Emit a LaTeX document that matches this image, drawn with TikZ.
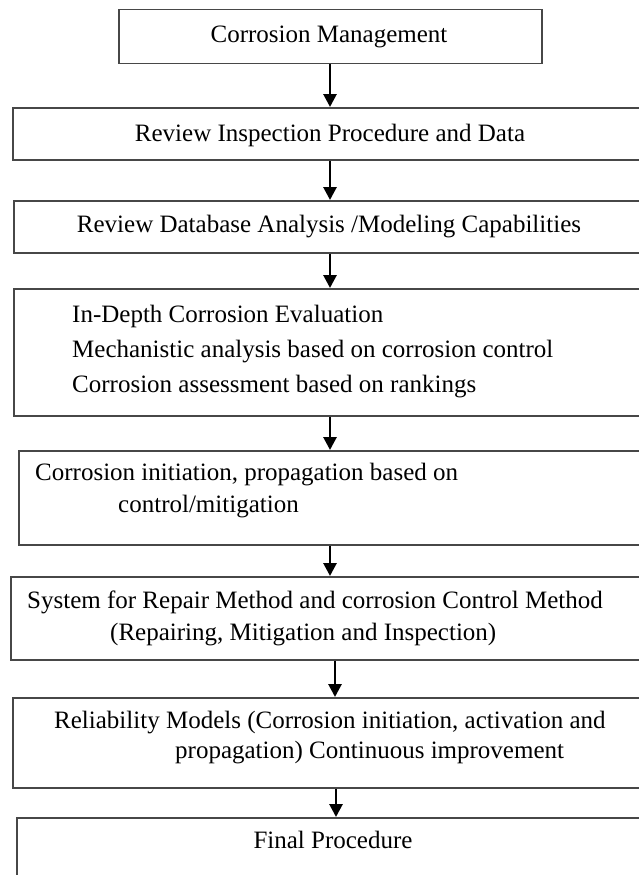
\documentclass[tikz,border=0pt]{standalone}
\usepackage{fontspec}
\setmainfont{Liberation Serif}
\usetikzlibrary{arrows.meta}
\begin{document}
\begin{tikzpicture}[x=1pt,y=-1pt,
  stage/.style={draw=black!72, line width=1.5pt, fill=white, inner sep=0pt, anchor=north west},
  label/.style={inner sep=0pt, font=\fontsize{25}{30}\selectfont},
  flow/.style={line width=2.8pt, -{Triangle[length=13pt,width=13pt]}}]
\useasboundingbox (0,0) rectangle (639,875);
\clip (0,0) rectangle (639,875);

% stage boxes (the lower ones run off the right and bottom edges)
\node[stage, minimum width=423pt, minimum height=54pt] (b1) at (118,9)  {};
\node[stage, minimum width=660pt, minimum height=52pt] (b2) at (12,107) {};
\node[stage, minimum width=660pt, minimum height=52pt] (b3) at (13,200) {};
\node[stage, minimum width=660pt, minimum height=127pt] (b4) at (13,288) {};
\node[stage, minimum width=660pt, minimum height=94pt] (b5) at (18,450) {};
\node[stage, minimum width=660pt, minimum height=83pt] (b6) at (10,576) {};
\node[stage, minimum width=660pt, minimum height=90pt] (b7) at (12,697) {};
\node[stage, minimum width=660pt, minimum height=90pt] (b8) at (16,817) {};

% texts
\node[label, anchor=base] (t1) at (329,43) {Corrosion Management};
\node[label, anchor=base] (t2) at (330,141) {Review Inspection Procedure and Data};
\node[label, anchor=base] (t3) at (329,232) {Review Database Analysis /Modeling Capabilities};
\node[label, anchor=base west] (t4a) at (72,322) {In-Depth Corrosion Evaluation};
\node[label, anchor=base west] (t4b) at (72,357) {Mechanistic analysis based on corrosion control};
\node[label, anchor=base west] (t4c) at (72,392) {Corrosion assessment based on rankings};
\node[label, anchor=base west] (t5a) at (35,480) {Corrosion initiation, propagation based on};
\node[label, anchor=base west] (t5b) at (118,512) {control/mitigation};
\node[label, anchor=base west] (t6a) at (27,608) {System for Repair Method and corrosion Control Method};
\node[label, anchor=base west] (t6b) at (110,640) {(Repairing, Mitigation and Inspection)};
\node[label, anchor=base west] (t7a) at (54,728) {Reliability Models (Corrosion initiation, activation and};
\node[label, anchor=base west] (t7b) at (175,758) {propagation) Continuous improvement};
\node[label, anchor=base] (t8) at (333,848) {Final Procedure};

% connector columns
\coordinate (c1) at (330,0);
\coordinate (c2) at (335,0);
\coordinate (c3) at (336,0);

\draw[flow] (c1 |- b1.south) -- (c1 |- b2.north);
\draw[flow] (c1 |- b2.south) -- (c1 |- b3.north);
\draw[flow] (c1 |- b3.south) -- (c1 |- b4.north);
\draw[flow] (c1 |- b4.south) -- (c1 |- b5.north);
\draw[flow] (c1 |- b5.south) -- (c1 |- b6.north);
\draw[flow] (c2 |- b6.south) -- (c2 |- b7.north);
\draw[flow] (c3 |- b7.south) -- (c3 |- b8.north);
\end{tikzpicture}
\end{document}
